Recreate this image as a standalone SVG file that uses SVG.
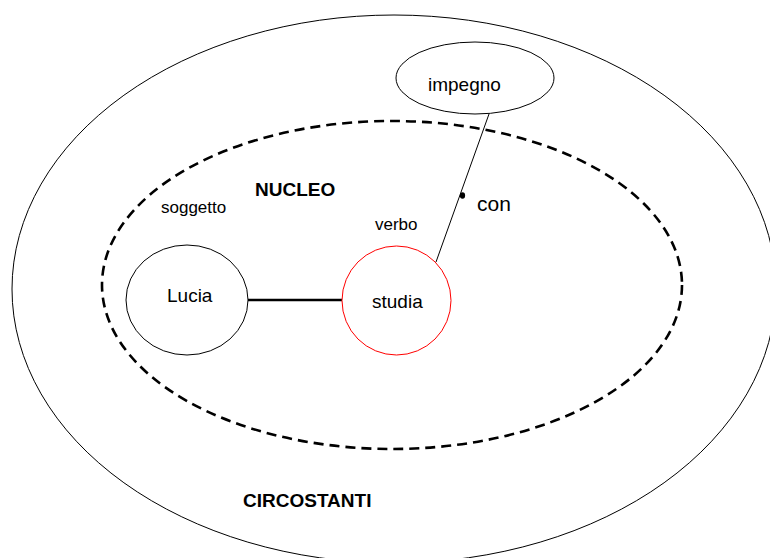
<svg xmlns="http://www.w3.org/2000/svg" width="770" height="558" viewBox="0 0 770 558">
<style>
.shape{fill:none;stroke:#000;stroke-width:1}
.lbl{font-family:"Liberation Sans",Arial,sans-serif;fill:#000}
.bold{font-weight:bold;font-size:19px}
</style>
<rect width="770" height="558" fill="#fff"/>
<g id="circostanti">
<ellipse class="shape" cx="394" cy="289" rx="382" ry="274"/>
<text class="lbl bold" x="243" y="507">CIRCOSTANTI</text>
</g>
<g id="nucleo">
<ellipse cx="392" cy="285" rx="290" ry="164" fill="none" stroke="#000" stroke-width="2.6" stroke-dasharray="10 6"/>
<text class="lbl bold" x="255" y="196">NUCLEO</text>
<text class="lbl" x="161" y="213" font-size="17">soggetto</text>
<text class="lbl" x="375" y="230" font-size="17">verbo</text>
</g>
<g id="connectors">
<line x1="248" y1="300" x2="342" y2="300" stroke="#000" stroke-width="2.6"/>
<line x1="489" y1="114" x2="436" y2="262" stroke="#000" stroke-width="1"/>
<ellipse cx="462.5" cy="195.5" rx="2.6" ry="3.2" fill="#000"/>
<text class="lbl" x="477" y="211" font-size="21">con</text>
</g>
<g id="lucia">
<ellipse class="shape" cx="187" cy="300" rx="61" ry="55" fill="#fff"/>
<text class="lbl" x="167" y="302" font-size="19">Lucia</text>
</g>
<g id="studia">
<ellipse cx="396.5" cy="300.5" rx="54.5" ry="54.5" fill="#fff" stroke="#ff0000" stroke-width="1"/>
<text class="lbl" x="372" y="308" font-size="19">studia</text>
</g>
<g id="impegno">
<ellipse class="shape" cx="475" cy="78" rx="79" ry="36" fill="#fff"/>
<text class="lbl" x="428" y="91" font-size="19">impegno</text>
</g>
</svg>
